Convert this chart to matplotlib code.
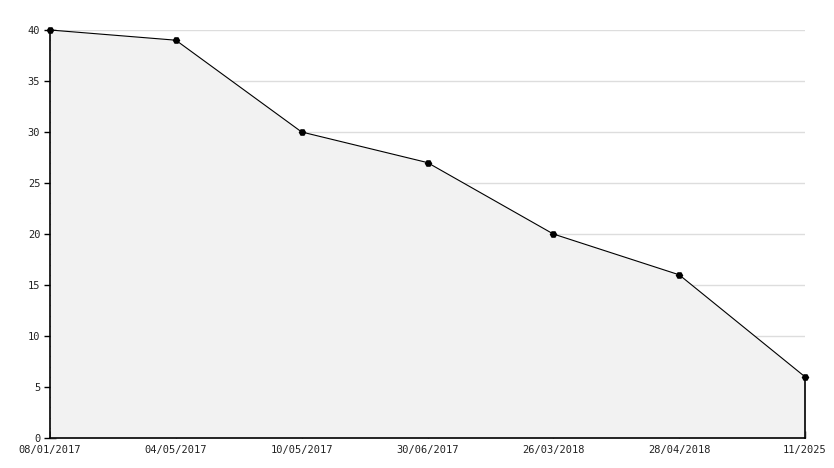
import matplotlib
matplotlib.use("Agg")
import matplotlib.pyplot as plt
from matplotlib.ticker import MultipleLocator

### Daten
dates = ["08/01/2017", "04/05/2017", "10/05/2017", "30/06/2017",
         "26/03/2018", "28/04/2018", "11/2025"]
values = [40, 39, 30, 27, 20, 16, 6]

x = list(range(len(dates)))

#### Plot
fig = plt.figure(figsize=(8.34, 4.68), dpi=100)
ax = fig.add_axes([50/834, 30/468, 755/834, 408/468])

ax.fill_between(x, values, 0, color="#f2f2f2", linewidth=0, zorder=1)
ax.plot(x, values, color="k", linewidth=0.8, marker="H", markersize=5.5,
        markeredgewidth=0, zorder=4, clip_on=False)
# Abschluss rechts
ax.plot([x[-1], x[-1]], [0, values[-1]], color="k", linewidth=1.2, zorder=3,
        clip_on=False)

ax.set_xlim(x[0], x[-1])
ax.set_ylim(0, 40)
ax.set_xticks(x)
ax.set_xticklabels(dates)
ax.yaxis.set_major_locator(MultipleLocator(5))
ax.yaxis.set_minor_locator(MultipleLocator(1))

ax.grid(True, axis="y", color="#dddddd", linewidth=1, zorder=0)
ax.set_axisbelow(True)

for s in ["top", "right"]:
    ax.spines[s].set_visible(False)
ax.spines["left"].set_linewidth(1.2)
ax.spines["bottom"].set_linewidth(1.2)

ax.tick_params(axis="x", direction="in", length=5, width=1, pad=5,
               labelsize=7.5, labelcolor="#222222")
ax.tick_params(axis="y", which="major", direction="inout", length=8, width=1,
               pad=3, labelsize=7.5, labelcolor="#222222")
ax.tick_params(axis="y", which="minor", direction="in", length=4, width=1)
for lab in ax.get_xticklabels() + ax.get_yticklabels():
    lab.set_family("DejaVu Sans Mono")
# die 0 sitzt etwas hoeher
ax.get_yticklabels()[0].set_verticalalignment("bottom")

fig.savefig("out.png", dpi=100)
